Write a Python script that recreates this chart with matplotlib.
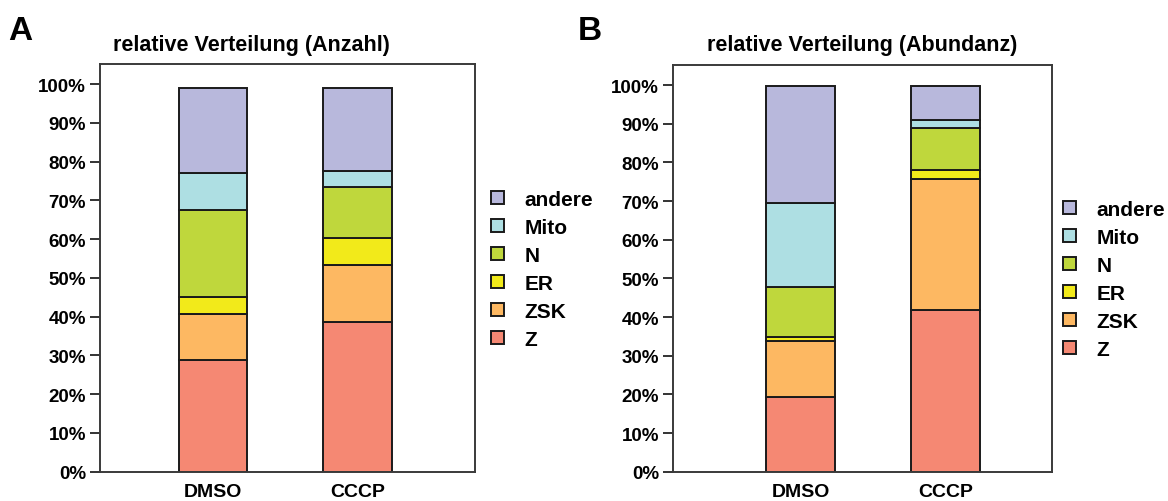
import numpy as np
import matplotlib
matplotlib.use('Agg')
import matplotlib.pyplot as plt
from matplotlib.patches import Patch
from matplotlib.ticker import FuncFormatter

plt.rcParams['font.family'] = ['Liberation Sans', 'DejaVu Sans']
plt.rcParams['font.weight'] = 'bold'

# ----------------------------------------------------------------
# donnees (en %)

proben = ['DMSO', 'CCCP']
kompartimente = ['Z', 'ZSK', 'ER', 'N', 'Mito', 'andere']
farben = ['#f58873', '#fdb862', '#f2ea1a', '#bfd73c', '#aedfe3', '#b8b8dc']

# A : relative Verteilung (Anzahl)
anzahl_Z = [28.8, 38.5]
anzahl_ZSK = [11.8, 14.9]
anzahl_ER = [4.6, 6.9]
anzahl_N = [22.3, 13.2]
anzahl_Mito = [9.5, 4.1]
anzahl_andere = [21.9, 21.5]

# B : relative Verteilung (Abundanz)
abund_Z = [19.3, 41.7]
abund_ZSK = [14.4, 34.1]
abund_ER = [1.2, 2.3]
abund_N = [12.9, 10.9]
abund_Mito = [21.8, 2.1]
abund_andere = [30.1, 8.7]

anzahl = [anzahl_Z, anzahl_ZSK, anzahl_ER, anzahl_N, anzahl_Mito, anzahl_andere]
abund = [abund_Z, abund_ZSK, abund_ER, abund_N, abund_Mito, abund_andere]

# ----------------------------------------------------------------

W, H = 1168, 502
fig = plt.figure(figsize=(W / 100, H / 100), dpi=100)

def px(l, t, r, b):
    return [l / W, 1 - b / H, (r - l) / W, (b - t) / H]

ax_a = fig.add_axes(px(100, 65, 475, 472.7))
ax_b = fig.add_axes(px(673, 66, 1052, 472.7))

def stacked(ax, werte, xlim):
    x = np.arange(len(proben))
    unten = np.zeros(len(proben))
    for name, w, c in zip(kompartimente, werte, farben):
        ax.bar(x, w, 0.475, bottom=unten, color=c, edgecolor='#1a1a1a',
               linewidth=1.4, label=name)
        unten += np.array(w)
    ax.set_xlim(*xlim)
    ax.set_ylim(0, 105.2)
    ax.set_yticks(np.arange(0, 101, 10))
    ax.yaxis.set_major_formatter(FuncFormatter(lambda v, p: '%d%%' % v))
    ax.set_xticks(x)
    ax.set_xticklabels(proben)
    ax.tick_params(axis='y', direction='out', length=7, width=1.4,
                   labelsize=13.5, pad=3, color='#333333')
    ax.tick_params(axis='x', length=0, labelsize=14, pad=8)
    for s in ax.spines.values():
        s.set_linewidth(1.4)
        s.set_color('#3a3a3a')

stacked(ax_a, anzahl, (-0.78, 1.81))
stacked(ax_b, abund, (-0.883, 1.737))

fig.text(251 / W, 1 - 46 / H, 'relative Verteilung (Anzahl)', ha='center',
         va='center', fontsize=15.5)
fig.text(862 / W, 1 - 46 / H, 'relative Verteilung (Abundanz)', ha='center',
         va='center', fontsize=15.5)
fig.text(8 / W, 1 - 32 / H, 'A', ha='left', va='center', fontsize=24)
fig.text(578 / W, 1 - 32 / H, 'B', ha='left', va='center', fontsize=24)

handles = [Patch(facecolor=c, edgecolor='#1a1a1a', linewidth=1.4)
           for c in farben][::-1]
labels = kompartimente[::-1]
for xl, yc in [(491 / W, 1 - 270.5 / H), (1063 / W, 1 - 280.5 / H)]:
    fig.legend(handles, labels, loc='center left', bbox_to_anchor=(xl, yc),
               frameon=False, fontsize=15, handlelength=0.6,
               handleheight=0.6, handletextpad=1.0, labelspacing=0.43,
               borderpad=0, borderaxespad=0)

plt.savefig('out.png', dpi=100)
